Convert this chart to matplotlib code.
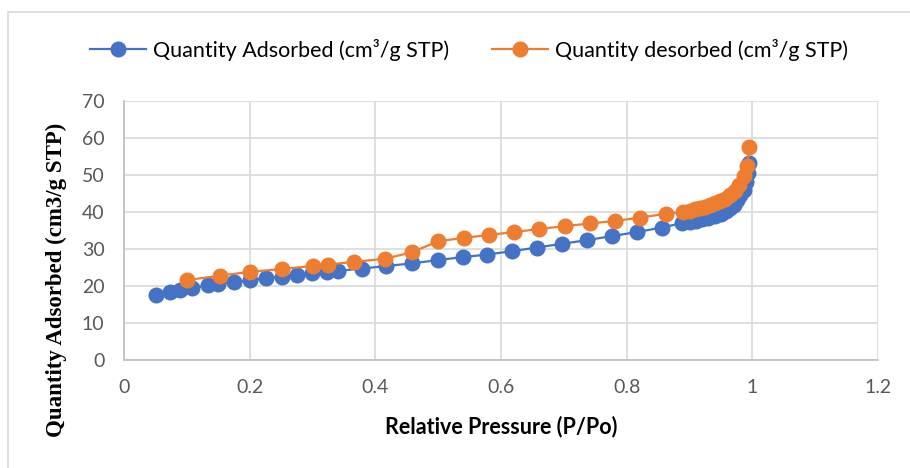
import matplotlib
matplotlib.use("Agg")
import matplotlib.pyplot as plt
from matplotlib.patches import Rectangle

# Nitrogen isotherm: relative pressure vs. quantity (cm3/g STP)
p_ads = [0.051, 0.073, 0.089, 0.109, 0.134, 0.150, 0.175, 0.200, 0.226, 0.251,
         0.275, 0.299, 0.323, 0.341, 0.378, 0.417, 0.458, 0.499, 0.539, 0.578,
         0.617, 0.657, 0.697, 0.737, 0.777, 0.817, 0.856, 0.888, 0.900, 0.910,
         0.920, 0.930, 0.940, 0.950, 0.958, 0.965, 0.971, 0.976, 0.981, 0.986,
         0.990, 0.993, 0.995]
q_ads = [17.5, 18.4, 19.0, 19.5, 20.2, 20.6, 21.1, 21.6, 22.1, 22.5,
         23.0, 23.5, 23.9, 24.1, 24.7, 25.4, 26.1, 27.0, 27.8, 28.5,
         29.4, 30.4, 31.4, 32.4, 33.5, 34.6, 35.8, 37.0, 37.3, 37.6,
         38.0, 38.4, 38.9, 39.5, 40.2, 41.0, 42.0, 43.2, 44.5, 46.0,
         48.0, 50.5, 53.2]

p_des = [0.101, 0.152, 0.200, 0.251, 0.300, 0.324, 0.366, 0.416, 0.458, 0.500,
         0.541, 0.581, 0.621, 0.661, 0.702, 0.742, 0.782, 0.822, 0.862, 0.890,
         0.900, 0.908, 0.916, 0.924, 0.932, 0.940, 0.948, 0.956, 0.964, 0.972,
         0.979, 0.986, 0.992, 0.995]
q_des = [21.6, 22.8, 23.8, 24.6, 25.4, 25.8, 26.5, 27.4, 29.1, 32.1,
         33.0, 33.8, 34.6, 35.4, 36.2, 36.9, 37.6, 38.5, 39.5, 40.1,
         40.4, 40.7, 41.0, 41.4, 41.8, 42.3, 42.9, 43.6, 44.6, 45.8,
         47.3, 49.6, 52.4, 57.5]

x_ticks = [0, 0.2, 0.4, 0.6, 0.8, 1, 1.2]
x_ticklabels = ["0", "0.2", "0.4", "0.6", "0.8", "1", "1.2"]
y_ticks = [0, 10, 20, 30, 40, 50, 60, 70]

BLUE = "#4472C4"
ORANGE = "#ED7D31"
TICK_COLOR = "#595959"
GRID_COLOR = "#D9D9D9"

plt.rcParams["font.family"] = ["Lato", "DejaVu Sans"]

fig = plt.figure(figsize=(9.1, 4.68), dpi=100)
fig.patches.append(Rectangle((8 / 910, -0.1), 1.2, 1.1 - 12 / 468,
                             transform=fig.transFigure, fill=False,
                             edgecolor="#D9D9D9", linewidth=1.2))

ax = fig.add_axes([124 / 910, 1 - 360 / 468, (878 - 124) / 910, (360 - 101) / 468])

ax.plot(p_ads, q_ads, color=BLUE, linewidth=1.6, marker="o", markersize=10.5,
        markerfacecolor=BLUE, markeredgecolor=BLUE,
        label="Quantity Adsorbed (cm\u00b3/g STP)", zorder=3)
ax.plot(p_des, q_des, color=ORANGE, linewidth=1.6, marker="o", markersize=10.5,
        markerfacecolor=ORANGE, markeredgecolor=ORANGE,
        label="Quantity desorbed (cm\u00b3/g STP)", zorder=4)

ax.set_xlim(0, 1.2)
ax.set_ylim(0, 70)
ax.set_xticks(x_ticks)
ax.set_xticklabels(x_ticklabels)
ax.set_yticks(y_ticks)
ax.tick_params(axis="both", length=0, labelsize=14, labelcolor=TICK_COLOR)
ax.tick_params(axis="x", pad=14)
ax.tick_params(axis="y", pad=14)

ax.grid(True, color=GRID_COLOR, linewidth=1.2, zorder=0)
ax.set_axisbelow(True)
for side in ["top", "right"]:
    ax.spines[side].set_visible(False)
for side in ["left", "bottom"]:
    ax.spines[side].set_color("#BFBFBF")
    ax.spines[side].set_linewidth(1.2)

ax.set_xlabel("Relative Pressure (P/Po)", fontsize=15.5, fontweight="bold",
              color="black", labelpad=14)
ax.set_ylabel("Quantity Adsorbed (cm3/g STP)", fontsize=16.5, fontweight="bold",
              family=["Liberation Serif", "DejaVu Serif"], color="black")
ax.yaxis.set_label_coords(-57 / 754, 0.31)

fig.legend(loc="center", bbox_to_anchor=(469 / 910, 1 - 50 / 468), ncol=2,
           frameon=False, fontsize=15.5, handlelength=2.6, handletextpad=0.3,
           columnspacing=2.0)

fig.savefig("out.png", dpi=100)
